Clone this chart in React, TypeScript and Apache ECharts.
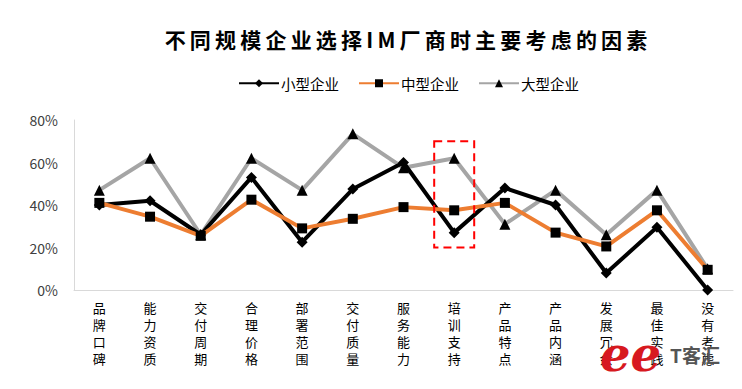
import React, { useEffect, useRef } from "react";
import * as echarts from "echarts";

const categories = ["品牌口碑", "能力资质", "交付周期", "合理价格", "部署范围", "交付质量", "服务能力", "培训支持", "产品特点", "产品内涵", "发展冗余", "最佳实践", "没有考虑"];
const smallEnterprise = [40, 42, 26, 53, 22.5, 47.5, 60, 27, 48, 40, 8, 29.5, 0];
const mediumEnterprise = [41, 34.5, 25.5, 42.5, 29, 33.5, 39, 37.5, 41, 27, 20.5, 37.5, 9.5];
const largeEnterprise = [47, 62, 26, 62, 47, 73.5, 57.5, 62, 31, 47, 26, 47, 10];
const seriesNames = ["小型企业", "中型企业", "大型企业"];
const yTicks = [0, 20, 40, 60, 80];
const highlightCategory = "培训支持";
const highlightRange = [70, 20];
const titleText = "不同规模企业选择IM厂商时主要考虑的因素";

const FONT = "'Noto Sans CJK SC', 'Noto Sans', sans-serif";

export default function App() {
  const ref = useRef<HTMLDivElement>(null);
  useEffect(() => {
    if (!ref.current) return;
    const chart = echarts.init(ref.current, null, { renderer: "svg" });
    chart.setOption({
      animation: false,
      backgroundColor: "#ffffff",
      title: {
        text: titleText.split("").join("\u2009"),
        left: 401,
        textAlign: "center",
        top: 23,
        textStyle: { fontFamily: FONT, fontSize: 21, fontWeight: "bold", color: "#000" },
      },
      legend: {
        top: 71,
        left: 233,
        itemWidth: 40,
        itemHeight: 10,
        itemGap: 19,
        data: seriesNames,
        textStyle: { fontFamily: FONT, fontSize: 14.5, color: "#000", padding: [0, 0, 0, -3] },
      },
      grid: { left: 74, right: 9, top: 120, bottom: 99, containLabel: false },
      xAxis: {
        type: "category",
        data: categories,
        boundaryGap: true,
        axisLine: { show: true, lineStyle: { color: "#d9d9d9", width: 1 } },
        axisTick: { show: false },
        axisLabel: {
          interval: 0,
          margin: 9,
          fontFamily: FONT,
          fontSize: 13,
          lineHeight: 17,
          color: "#000",
          formatter: (v: string) => v.split("").join("\n"),
        },
      },
      yAxis: {
        type: "value",
        min: yTicks[0],
        max: yTicks[yTicks.length - 1],
        interval: 20,
        splitLine: { show: false },
        axisLine: { show: true, lineStyle: { color: "#d9d9d9", width: 1 } },
        axisTick: { show: false },
        axisLabel: {
          margin: 16,
          fontFamily: FONT,
          fontSize: 14,
          color: "#404040",
          formatter: (v: number) => v + "%",
        },
      },
      series: [
        {
          name: seriesNames[0],
          type: "line",
          data: smallEnterprise,
          symbol: "diamond",
          symbolSize: 11,
          lineStyle: { color: "#000000", width: 4 },
          itemStyle: { color: "#000000" },
          z: 3,
        },
        {
          name: seriesNames[1],
          type: "line",
          data: mediumEnterprise,
          symbol: "rect",
          symbolSize: 10,
          lineStyle: { color: "#ED7D31", width: 4 },
          itemStyle: { color: "#000000" },
          z: 4,
        },
        {
          name: seriesNames[2],
          type: "line",
          data: largeEnterprise,
          symbol: "triangle",
          symbolSize: 11,
          lineStyle: { color: "#A5A5A5", width: 4 },
          itemStyle: { color: "#000000" },
          z: 2,
        },
      ],
    });

    const topLeft = chart.convertToPixel({ xAxisIndex: 0, yAxisIndex: 0 }, [highlightCategory, highlightRange[0]]) as number[];
    const bottom = chart.convertToPixel({ xAxisIndex: 0, yAxisIndex: 0 }, [highlightCategory, highlightRange[1]]) as number[];
    chart.setOption({
      graphic: [
        {
          type: "rect",
          shape: { x: topLeft[0] - 20, y: topLeft[1], width: 40, height: bottom[1] - topLeft[1] },
          style: { fill: "none", stroke: "#FF0000", lineWidth: 2, lineDash: [8, 5] },
          z: 10,
        },
        {
          type: "text",
          left: 600,
          top: 330,
          style: {
            text: "ee",
            font: "italic bold 48px 'DejaVu Serif', serif",
            fill: "#D7191F",
          },
          z: 20,
        },
        {
          type: "text",
          left: 670,
          top: 345,
          style: {
            text: "T客汇",
            font: "bold 19px 'Noto Sans CJK SC', sans-serif",
            fill: "#555555",
          },
          z: 20,
        },
      ],
    });

    return () => chart.dispose();
  }, []);
  return <div ref={ref} style={{ width: 742, height: 389, position: "absolute", left: 0, top: 0 }} />;
}
